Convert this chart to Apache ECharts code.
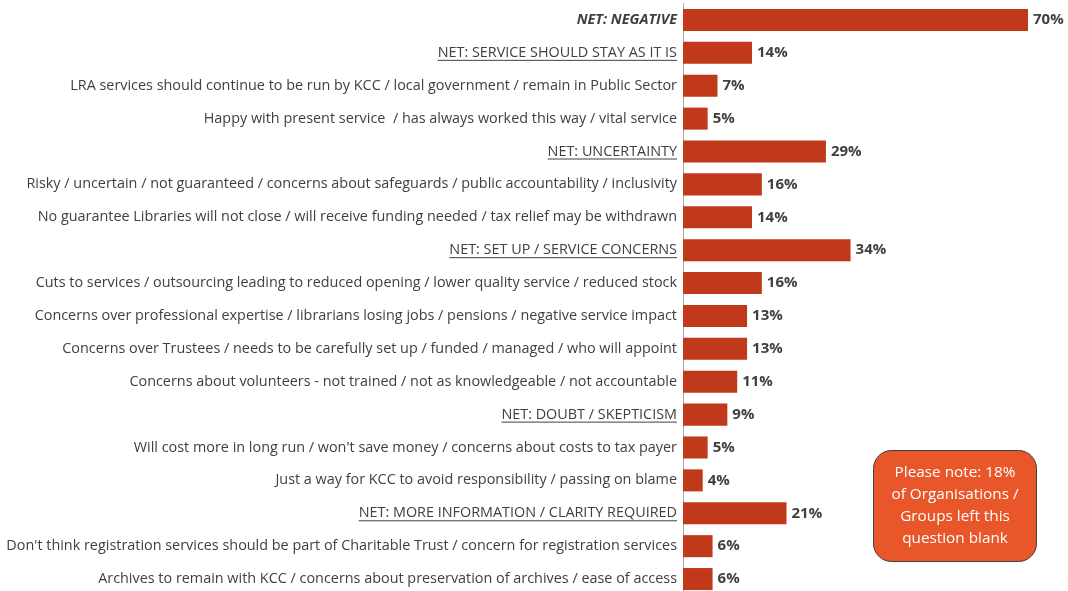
<!DOCTYPE html>
<html style="height: 100%">
<head>
    <meta charset="utf-8">
    <script src="https://cdn.jsdelivr.net/npm/echarts@6/dist/echarts.min.js"></script>
</head>
<body style="height: 100%; margin: 0; background: #fff;">
<div id="container" style="width: 1068px; height: 591px;"></div>
<script type="text/javascript">
    // 类别（自上而下）
    var categories = [
        'NET: NEGATIVE',
        'NET: SERVICE SHOULD STAY AS IT IS',
        'LRA services should continue to be run by KCC / local government / remain in Public Sector',
        'Happy with present service  / has always worked this way / vital service',
        'NET: UNCERTAINTY',
        'Risky / uncertain / not guaranteed / concerns about safeguards / public accountability / inclusivity',
        'No guarantee Libraries will not close / will receive funding needed / tax relief may be withdrawn',
        'NET: SET UP / SERVICE CONCERNS',
        'Cuts to services / outsourcing leading to reduced opening / lower quality service / reduced stock',
        'Concerns over professional expertise / librarians losing jobs / pensions / negative service impact',
        'Concerns over Trustees / needs to be carefully set up / funded / managed / who will appoint',
        'Concerns about volunteers - not trained / not as knowledgeable / not accountable',
        'NET: DOUBT / SKEPTICISM',
        "Will cost more in long run / won't save money / concerns about costs to tax payer",
        'Just a way for KCC to avoid responsibility / passing on blame',
        'NET: MORE INFORMATION / CLARITY REQUIRED',
        "Don't think registration services should be part of Charitable Trust / concern for registration services",
        'Archives to remain with KCC / concerns about preservation of archives / ease of access'
    ];
    var values = [70, 14, 7, 5, 29, 16, 14, 34, 16, 13, 13, 11, 9, 5, 4, 21, 6, 6];
    var noteText = 'Please note: 18%\nof Organisations /\nGroups left this\nquestion blank';

    var FONT = '"Open Sans", sans-serif';
    var TXT = '#404040';
    var FS = 14.4;

    // 下划线用的背景图
    function underlineImg() {
        var c = document.createElement('canvas');
        c.width = 4;
        c.height = 20;
        var ctx = c.getContext('2d');
        ctx.fillStyle = TXT;
        ctx.fillRect(0, 17, 4, 1);
        return c;
    }

    var myChart = echarts.init(document.getElementById('container'));
    var option = {
        animation: false,
        grid: {
            left: 683,
            top: 3.5,
            width: 345,
            height: 592,
            outerBoundsMode: 'none'
        },
        xAxis: {
            type: 'value',
            min: 0,
            max: 70,
            show: false
        },
        yAxis: {
            type: 'category',
            inverse: true,
            data: categories,
            axisLine: {
                lineStyle: { color: '#A6A6A6', width: 1 }
            },
            axisTick: {
                length: 4,
                lineStyle: { color: '#A6A6A6' }
            },
            axisLabel: {
                margin: 6,
                fontFamily: FONT,
                fontSize: FS,
                color: TXT,
                formatter: function (v) {
                    if (v === 'NET: NEGATIVE') return '{n|' + v + '}';
                    if (v.indexOf('NET:') === 0) return '{u|' + v + '}';
                    return v;
                },
                rich: {
                    n: {
                        fontFamily: FONT,
                        fontSize: FS,
                        fontWeight: 'bold',
                        fontStyle: 'italic',
                        color: TXT
                    },
                    u: {
                        fontFamily: FONT,
                        fontSize: FS,
                        color: TXT,
                        height: 20,
                        lineHeight: 20,
                        backgroundColor: { image: underlineImg() }
                    }
                }
            }
        },
        series: [{
            type: 'bar',
            data: values,
            barCategoryGap: '33%',
            itemStyle: { color: '#C0391B' },
            label: {
                show: true,
                position: 'right',
                distance: 5,
                formatter: '{c}%',
                fontFamily: FONT,
                fontSize: 15,
                fontWeight: 'bold',
                color: TXT
            }
        }],
        graphic: [{
            type: 'group',
            left: 873,
            top: 450,
            children: [{
                type: 'rect',
                shape: { x: 0, y: 0, width: 163, height: 111, r: 18 },
                style: { fill: '#E8562A', stroke: '#404040', lineWidth: 1 }
            }, {
                type: 'text',
                x: 81.5,
                y: 55.5,
                style: {
                    text: noteText,
                    fill: '#fff',
                    font: '15.3px ' + FONT,
                    lineHeight: 22,
                    align: 'center',
                    verticalAlign: 'middle'
                }
            }]
        }]
    };
    myChart.setOption(option);
</script>
</body>
</html>
